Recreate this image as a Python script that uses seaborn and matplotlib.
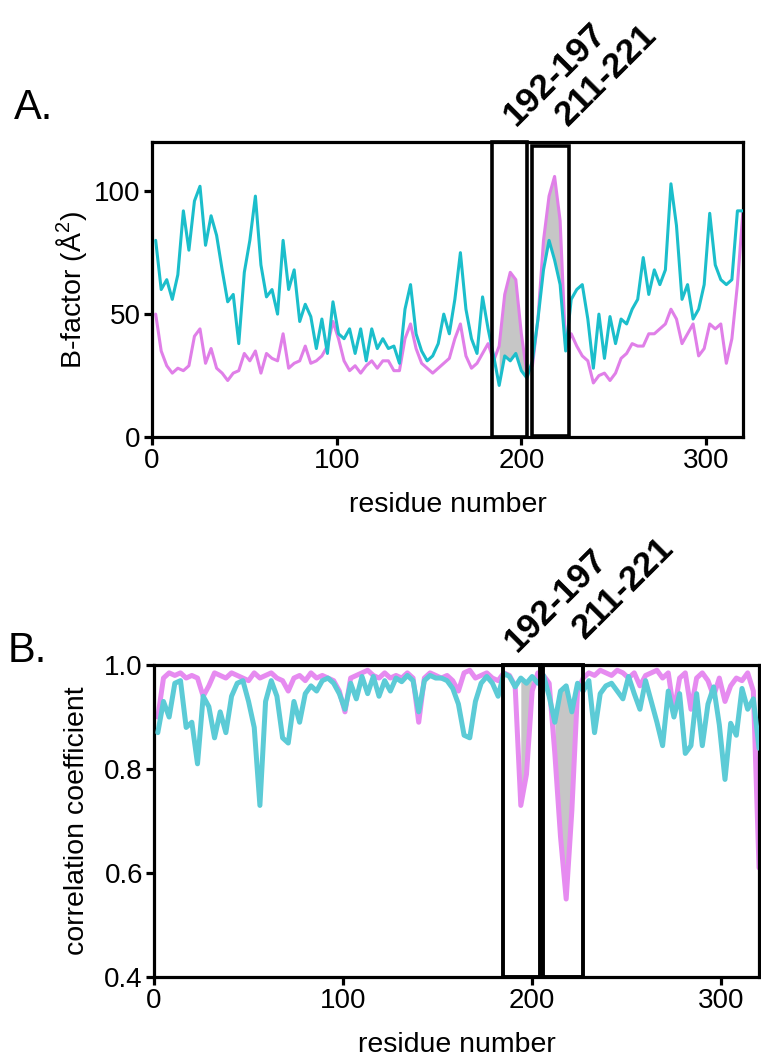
import matplotlib
matplotlib.use("Agg")
import matplotlib.pyplot as plt
from matplotlib.patches import Rectangle
import seaborn as sns

# residue numbers (sampled every 3rd residue)
residues = list(range(2, 321, 3))

# panel A: B-factors
bfactor_cyan = [
    80, 60, 64, 56, 66, 92, 76, 96, 102, 78,
    90, 82, 68, 55, 58, 38, 67, 80, 98, 70,
    57, 60, 50, 80, 60, 68, 47, 54, 49, 36,
    48, 34, 55, 42, 40, 44, 34, 44, 31, 44,
    36, 40, 36, 37, 30, 52, 62, 42, 35, 31,
    33, 38, 50, 42, 56, 75, 52, 40, 34, 57,
    44, 33, 21, 33, 31, 34, 27, 24, 31, 48,
    68, 80, 72, 62, 35, 56, 60, 62, 48, 28,
    50, 32, 49, 38, 48, 46, 52, 56, 73, 58,
    68, 62, 68, 103, 86, 56, 62, 48, 52, 62,
    91, 70, 64, 62, 64, 92, 92,
]
bfactor_magenta = [
    50, 35, 29, 26, 28, 27, 29, 41, 44, 30,
    36, 28, 26, 23, 26, 27, 34, 31, 35, 26,
    34, 32, 31, 42, 28, 30, 31, 37, 30, 31,
    33, 37, 47, 40, 31, 27, 29, 26, 29, 31,
    28, 31, 31, 27, 27, 40, 46, 36, 30, 28,
    26, 28, 30, 32, 40, 46, 33, 28, 30, 34,
    38, 31, 37, 58, 67, 64, 42, 26, 29, 48,
    80, 98, 106, 88, 36, 42, 37, 33, 31, 22,
    25, 26, 23, 26, 32, 34, 38, 37, 37, 42,
    42, 44, 46, 52, 48, 38, 42, 46, 33, 36,
    46, 44, 46, 30, 40, 62, 92,
]

# panel B: correlation coefficients
corr_cyan = [
    0.87, 0.93, 0.90, 0.965, 0.97, 0.88, 0.89, 0.81, 0.94, 0.92,
    0.86, 0.91, 0.87, 0.94, 0.965, 0.97, 0.93, 0.88, 0.73, 0.93,
    0.97, 0.94, 0.86, 0.85, 0.93, 0.89, 0.945, 0.96, 0.95, 0.97,
    0.975, 0.965, 0.945, 0.915, 0.965, 0.935, 0.978, 0.945, 0.978, 0.94,
    0.97, 0.95, 0.975, 0.968, 0.98, 0.97, 0.91, 0.97, 0.98, 0.975,
    0.975, 0.97, 0.955, 0.925, 0.865, 0.86, 0.93, 0.965, 0.978, 0.965,
    0.94, 0.984, 0.978, 0.958, 0.975, 0.965, 0.978, 0.965, 0.98, 0.94,
    0.89, 0.95, 0.96, 0.91, 0.965, 0.95, 0.97, 0.87, 0.945, 0.96,
    0.965, 0.95, 0.935, 0.978, 0.945, 0.915, 0.97, 0.93, 0.89, 0.845,
    0.95, 0.90, 0.945, 0.83, 0.845, 0.945, 0.845, 0.925, 0.958, 0.885,
    0.78, 0.888, 0.865, 0.955, 0.915, 0.935, 0.84,
]
corr_magenta = [
    0.90, 0.975, 0.985, 0.98, 0.985, 0.975, 0.98, 0.975, 0.94, 0.96,
    0.985, 0.98, 0.975, 0.985, 0.98, 0.975, 0.97, 0.985, 0.975, 0.98,
    0.985, 0.975, 0.97, 0.95, 0.975, 0.98, 0.97, 0.985, 0.975, 0.98,
    0.975, 0.97, 0.95, 0.91, 0.975, 0.98, 0.985, 0.99, 0.98, 0.975,
    0.985, 0.975, 0.98, 0.975, 0.985, 0.975, 0.89, 0.975, 0.985, 0.98,
    0.975, 0.98, 0.97, 0.95, 0.985, 0.99, 0.975, 0.98, 0.985, 0.975,
    0.97, 0.985, 0.98, 0.96, 0.73, 0.79, 0.95, 0.985, 0.98, 0.965,
    0.83, 0.67, 0.55, 0.72, 0.95, 0.975, 0.985, 0.98, 0.99, 0.985,
    0.98, 0.99, 0.985, 0.975, 0.985, 0.96, 0.98, 0.985, 0.99, 0.975,
    0.985, 0.91, 0.975, 0.985, 0.915, 0.975, 0.985, 0.97, 0.94, 0.975,
    0.93, 0.96, 0.975, 0.97, 0.985, 0.95, 0.61,
]

region_labels = ["192-197", "211-221"]

sns.set_style("ticks")
plt.rcParams['font.family'] = ['Liberation Sans', 'DejaVu Sans']
plt.rcParams['mathtext.default'] = 'regular'
plt.rcParams['text.color'] = 'black'
plt.rcParams['axes.labelcolor'] = 'black'

fig = plt.figure(figsize=(7.61, 10.59), dpi=100)
axA = fig.add_axes([0.1997, 0.5873, 0.7766, 0.2786])
axB = fig.add_axes([0.2024, 0.0774, 0.7950, 0.2946])


def style_axes(ax):
    for sp in ax.spines.values():
        sp.set_visible(True)
        sp.set_linewidth(2.3)
        sp.set_color("black")
    ax.tick_params(direction="out", length=6, width=2.3, labelsize=20,
                   colors="black", pad=2)


def shade(ax, y_hi, y_lo, lo, hi):
    xs, a, b = [], [], []
    for r, u, v in zip(residues, y_hi, y_lo):
        if lo <= r <= hi:
            xs.append(r)
            a.append(u)
            b.append(v)
    ax.fill_between(xs, a, b, where=[u > v for u, v in zip(a, b)],
                    color="#c6c6c6", linewidth=0, zorder=1)


def region_text(ax, x, y, s):
    ax.text(x, y, s, rotation=45, rotation_mode="anchor", ha="left",
            va="baseline", fontsize=25.5, fontweight="bold", color="black")


# ---- panel A ----
shade(axA, bfactor_magenta, bfactor_cyan, 188, 203)
shade(axA, bfactor_magenta, bfactor_cyan, 209, 224)
sns.lineplot(x=residues, y=bfactor_magenta, ax=axA, color="#e07fe8",
             linewidth=2.2, zorder=2)
sns.lineplot(x=residues, y=bfactor_cyan, ax=axA, color="#1bbecb",
             linewidth=2.2, zorder=3)
axA.set_xlim(0, 320)
axA.set_ylim(0, 120)
axA.set_xticks([0, 100, 200, 300])
axA.set_yticks([0, 50, 100])
axA.set_xlabel("residue number", fontsize=20.5, labelpad=13)
axA.set_ylabel("B-factor (Å$^{2}$)", fontsize=20.5, labelpad=4)
style_axes(axA)
axA.add_patch(Rectangle((184, 0), 19, 120, fill=False, lw=2.6,
                        ec="black", clip_on=False, zorder=5))
axA.add_patch(Rectangle((205.6, 0.6), 20.4, 117.8, fill=False, lw=2.6,
                        ec="black", clip_on=False, zorder=5))
region_text(axA, 197, 126, region_labels[0])
region_text(axA, 225, 126, region_labels[1])
fig.text(0.018, 0.888, "A.", fontsize=30)

# ---- panel B ----
shade(axB, corr_cyan, corr_magenta, 188, 203)
shade(axB, corr_cyan, corr_magenta, 209, 224)
sns.lineplot(x=residues, y=corr_magenta, ax=axB, color="#e68bf0",
             linewidth=3.6, zorder=2)
sns.lineplot(x=residues, y=corr_cyan, ax=axB, color="#5ccbd6",
             linewidth=3.6, zorder=3)
axB.set_xlim(0, 320)
axB.set_ylim(0.4, 1.0)
axB.set_xticks([0, 100, 200, 300])
axB.set_yticks([0.4, 0.6, 0.8, 1.0])
axB.set_yticklabels(["0.4", "0.6", "0.8", "1.0"])
axB.set_xlabel("residue number", fontsize=20.5, labelpad=13)
axB.set_ylabel("correlation coefficient", fontsize=20.5, labelpad=10)
style_axes(axB)
axB.add_patch(Rectangle((184.6, 0.4), 19.3, 0.6, fill=False, lw=2.8,
                        ec="black", clip_on=False, zorder=5))
axB.add_patch(Rectangle((205.7, 0.4), 21.1, 0.6, fill=False, lw=2.8,
                        ec="black", clip_on=False, zorder=5))
region_text(axB, 192, 1.023, region_labels[0])
region_text(axB, 228, 1.048, region_labels[1])
fig.text(0.010, 0.375, "B.", fontsize=30)

fig.savefig("out.png", dpi=100)
